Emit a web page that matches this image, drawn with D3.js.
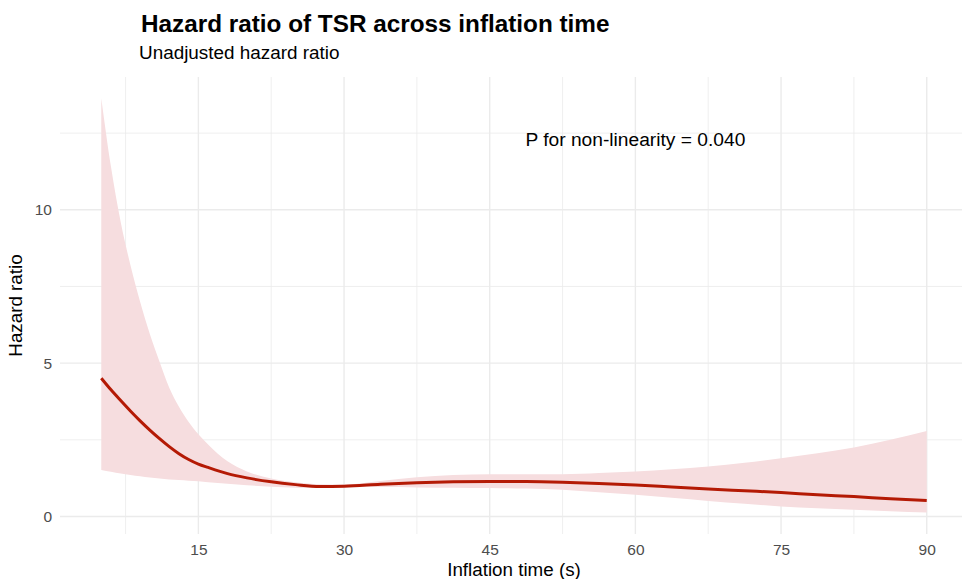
<!DOCTYPE html>
<html>
<head>
<meta charset="utf-8">
<script src="https://cdn.jsdelivr.net/npm/d3@7"></script>
<style>
  html, body { margin: 0; padding: 0; background: #fff; }
  svg { display: block; font-family: "Liberation Sans", Arial, Helvetica, sans-serif; }
</style>
</head>
<body>
<svg id="chart" width="962" height="579"></svg>
<script>
// ---- data ----
const inflationTime = [5, 6, 7, 8, 9, 10, 11, 12, 13, 14, 15, 16, 18, 20, 22.5, 25, 27.5, 30,
  33.75, 37.5, 41.25, 45, 48.75, 52.5, 56.25, 60, 63.75, 67.5, 71.25, 75, 78.75, 82.5, 86.25, 90];
const hazardRatio = [4.51, 4.13, 3.78, 3.44, 3.12, 2.82, 2.54, 2.28, 2.05, 1.86, 1.71, 1.60, 1.40, 1.26, 1.13, 1.04, 0.98, 0.99,
  1.05, 1.10, 1.13, 1.14, 1.14, 1.12, 1.08, 1.03, 0.965, 0.90, 0.84, 0.78, 0.71, 0.65, 0.58, 0.52];
const upperCI = [13.64, 11.4, 9.6, 8.2, 7.0, 5.95, 5.05, 4.2, 3.58, 3.08, 2.68, 2.35, 1.80, 1.47, 1.24, 1.12, 1.05, 1.04,
  1.16, 1.28, 1.35, 1.38, 1.38, 1.38, 1.42, 1.47, 1.54, 1.63, 1.75, 1.90, 2.06, 2.25, 2.50, 2.79];
const lowerCI = [1.52, 1.46, 1.40, 1.35, 1.31, 1.27, 1.24, 1.21, 1.19, 1.17, 1.15, 1.12, 1.07, 1.02, 0.97, 0.94, 0.93, 0.95,
  0.96, 0.95, 0.94, 0.93, 0.91, 0.87, 0.79, 0.71, 0.61, 0.51, 0.42, 0.33, 0.27, 0.22, 0.17, 0.13];

const xMajorTicks = [15, 30, 45, 60, 75, 90];
const xMinorTicks = [7.5, 22.5, 37.5, 52.5, 67.5, 82.5];
const yMajorTicks = [0, 5, 10];
const yMinorTicks = [2.5, 7.5, 12.5];

const titleText = "Hazard ratio of TSR across inflation time";
const subtitleText = "Unadjusted hazard ratio";
const xTitle = "Inflation time (s)";
const yTitle = "Hazard ratio";
const annotationText = "P for non-linearity = 0.040";
const annotationPos = [60, 12.3];

// ---- layout ----
const svg = d3.select("#chart");
const panel = { left: 60, right: 968, top: 77, bottom: 534 };

const x = d3.scaleLinear().domain([0.75, 94.25]).range([panel.left, panel.right]);
const y = d3.scaleLinear().domain([-0.57, 14.33]).range([panel.bottom, panel.top]);

const data = inflationTime.map((t, i) => ({ t, hr: hazardRatio[i], lo: lowerCI[i], hi: upperCI[i] }));

const grid = svg.append("g");
grid.selectAll(".xminor").data(xMinorTicks).join("line")
  .attr("x1", d => x(d)).attr("x2", d => x(d))
  .attr("y1", panel.top).attr("y2", panel.bottom)
  .attr("stroke", "#EBEBEB").attr("stroke-width", 0.8);
grid.selectAll(".yminor").data(yMinorTicks).join("line")
  .attr("x1", panel.left).attr("x2", panel.right)
  .attr("y1", d => y(d)).attr("y2", d => y(d))
  .attr("stroke", "#EBEBEB").attr("stroke-width", 0.8);
grid.selectAll(".xmajor").data(xMajorTicks).join("line")
  .attr("x1", d => x(d)).attr("x2", d => x(d))
  .attr("y1", panel.top).attr("y2", panel.bottom)
  .attr("stroke", "#EBEBEB").attr("stroke-width", 1.4);
grid.selectAll(".ymajor").data(yMajorTicks).join("line")
  .attr("x1", panel.left).attr("x2", panel.right)
  .attr("y1", d => y(d)).attr("y2", d => y(d))
  .attr("stroke", "#EBEBEB").attr("stroke-width", 1.4);

// ribbon
const area = d3.area()
  .x(d => x(d.t)).y0(d => y(d.lo)).y1(d => y(d.hi))
  .curve(d3.curveMonotoneX);
svg.append("path").datum(data).attr("d", area)
  .attr("fill", "#F6DDDF");

// line
const line = d3.line().x(d => x(d.t)).y(d => y(d.hr)).curve(d3.curveMonotoneX);
svg.append("path").datum(data).attr("d", line)
  .attr("fill", "none").attr("stroke", "#B41A05").attr("stroke-width", 3);

// axes (no domain, no tick marks)
const xAxis = svg.append("g").attr("transform", `translate(0,${panel.bottom})`)
  .call(d3.axisBottom(x).tickValues(xMajorTicks).tickSize(0).tickPadding(10));
xAxis.select(".domain").remove();
xAxis.attr("font-size", null).attr("font-family", null);
xAxis.selectAll("text").style("font-size", "15.5px").attr("fill", "#4D4D4D");

const yAxis = svg.append("g").attr("transform", `translate(${panel.left},0)`)
  .call(d3.axisLeft(y).tickValues(yMajorTicks).tickSize(0).tickPadding(8));
yAxis.select(".domain").remove();
yAxis.attr("font-size", null).attr("font-family", null);
yAxis.selectAll("text").style("font-size", "15.5px").attr("fill", "#4D4D4D");

// annotation
svg.append("text").attr("x", x(annotationPos[0])).attr("y", y(annotationPos[1]))
  .attr("dy", "0.35em").attr("text-anchor", "middle")
  .style("font-size", "19.2px").attr("fill", "#000").text(annotationText);

// titles
svg.append("text").attr("x", 141).attr("y", 31.5)
  .style("font-size", "24.3px").attr("font-weight", "bold").attr("fill", "#000").text(titleText);
svg.append("text").attr("x", 139).attr("y", 59.3)
  .style("font-size", "18.9px").attr("fill", "#000").text(subtitleText);
svg.append("text").attr("x", (panel.left + panel.right) / 2).attr("y", 576)
  .attr("text-anchor", "middle").style("font-size", "18.8px").attr("fill", "#000").text(xTitle);
svg.append("text").attr("transform", `translate(22,${(panel.top + panel.bottom) / 2}) rotate(-90)`)
  .attr("text-anchor", "middle").style("font-size", "18.8px").attr("fill", "#000").text(yTitle);
</script>
</body>
</html>
